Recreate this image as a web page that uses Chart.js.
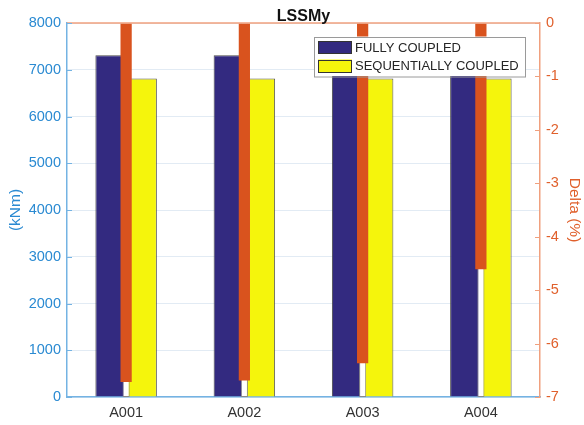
<!DOCTYPE html>
<html>
<head>
<meta charset="utf-8">
<script src="https://cdn.jsdelivr.net/npm/chart.js@4/dist/chart.umd.min.js"></script>
<style>
  html, body { margin: 0; padding: 0; background: #ffffff; }
  #wrap { position: relative; width: 584px; height: 425px; }
</style>
</head>
<body>
<div id="wrap"><canvas id="c" width="584" height="425"></canvas></div>
<script>
// LSSMy comparison: moment (kNm) per case, with relative difference (%) on the right axis
const categories = ['A001', 'A002', 'A003', 'A004'];
const fullyCoupled = [7310, 7310, 7310, 7310];
const sequentiallyCoupled = [6815, 6815, 6815, 6815];
const deltaPct = [-6.72, -6.69, -6.37, -4.61];
const deltaRange = [[-7, 0], [-7, 0], [-7, 0], [-7, 0]];
const seriesNames = ['FULLY COUPLED', 'SEQUENTIALLY COUPLED'];
const titleText = 'LSSMy';
const leftTitle = '(kNm)';
const rightTitle = 'Delta (%)';

const FONT = "'Liberation Sans', Arial, Helvetica, sans-serif";
const BLUE_TXT = '#2a8ad2';
const BLUE_LINE = '#74b3e3';
const ORANGE_TXT = '#e0602c';
const ORANGE_LINE = '#f0a07e';
const NAVY = '#332a80';
const YELLOW = '#f5f50c';
const RED_ORANGE = '#d9531e';

Chart.defaults.font.family = FONT;

// Title, inward tick marks, the orange top edge and the boxed legend
const decorations = {
  id: 'decorations',
  afterDraw(chart) {
    const ctx = chart.ctx;
    const a = chart.chartArea;
    const yL = chart.scales.y;
    const yR = chart.scales.y2;
    ctx.save();

    // top edge of the box in the right-axis colour
    ctx.strokeStyle = ORANGE_LINE;
    ctx.lineWidth = 1.5;
    ctx.beginPath();
    ctx.moveTo(a.left, a.top);
    ctx.lineTo(a.right, a.top);
    ctx.stroke();

    // inward ticks, left axis
    ctx.lineWidth = 1;
    ctx.strokeStyle = BLUE_LINE;
    yL.ticks.forEach(t => {
      const py = Math.round(yL.getPixelForValue(t.value)) + 0.5;
      ctx.beginPath();
      ctx.moveTo(a.left, py);
      ctx.lineTo(a.left + 5, py);
      ctx.stroke();
    });
    // inward ticks, right axis
    ctx.strokeStyle = ORANGE_LINE;
    yR.ticks.forEach(t => {
      const py = Math.round(yR.getPixelForValue(t.value)) + 0.5;
      ctx.beginPath();
      ctx.moveTo(a.right, py);
      ctx.lineTo(a.right - 5, py);
      ctx.stroke();
    });

    // title
    ctx.fillStyle = '#111111';
    ctx.font = 'bold 16px ' + FONT;
    ctx.textAlign = 'center';
    ctx.textBaseline = 'alphabetic';
    ctx.fillText(titleText, (a.left + a.right) / 2, 20.5);

    // legend
    const bx = a.right - 226, by = a.top + 13.5, bw = 211, bh = 39.5;
    ctx.fillStyle = '#ffffff';
    ctx.fillRect(bx, by, bw, bh);
    ctx.strokeStyle = '#9a9a9a';
    ctx.lineWidth = 1;
    ctx.strokeRect(Math.round(bx) + 0.5, Math.round(by) + 0.5, bw, bh);
    const ds = chart.data.datasets;
    ctx.font = '13px ' + FONT;
    ctx.textAlign = 'left';
    ctx.textBaseline = 'middle';
    [0, 1].forEach((i, row) => {
      const cy = by + 11 + row * 18.5;
      ctx.fillStyle = ds[i].backgroundColor;
      ctx.fillRect(bx + 4, cy - 6.5, 34, 13);
      ctx.strokeStyle = '#333333';
      ctx.strokeRect(Math.round(bx + 4) + 0.5, Math.round(cy - 6.5) + 0.5, 33, 12);
      ctx.fillStyle = '#262626';
      ctx.fillText(seriesNames[i], bx + 41, cy + 0.5);
    });
    ctx.restore();
  }
};

new Chart(document.getElementById('c'), {
  type: 'bar',
  data: {
    labels: categories,
    datasets: [
      {
        label: seriesNames[0],
        data: fullyCoupled,
        yAxisID: 'y',
        backgroundColor: NAVY,
        borderColor: '#4a4a4a',
        borderWidth: 1,
        categoryPercentage: 0.52,
        barPercentage: 1,
        order: 3
      },
      {
        label: seriesNames[1],
        data: sequentiallyCoupled,
        yAxisID: 'y',
        backgroundColor: YELLOW,
        borderColor: '#555555',
        borderWidth: 1,
        categoryPercentage: 0.52,
        barPercentage: 1,
        order: 4
      },
      {
        label: 'delta range',
        data: deltaRange,
        yAxisID: 'y2',
        grouped: false,
        backgroundColor: '#ffffff',
        borderColor: '#8a8a8a',
        borderWidth: 1,
        categoryPercentage: 1,
        barPercentage: 0.06,
        order: 2
      },
      {
        label: 'Delta',
        data: deltaPct,
        yAxisID: 'y2',
        grouped: false,
        backgroundColor: RED_ORANGE,
        borderWidth: 0,
        categoryPercentage: 1,
        barPercentage: 0.095,
        order: 1
      }
    ]
  },
  options: {
    responsive: false,
    animation: false,
    devicePixelRatio: 1,
    layout: { padding: { top: 23, left: 0, right: 0, bottom: 0 } },
    plugins: {
      legend: { display: false },
      title: { display: false },
      tooltip: { enabled: false }
    },
    scales: {
      x: {
        type: 'category',
        offset: true,
        grid: { display: false, drawTicks: false },
        border: { color: BLUE_LINE, width: 1.5 },
        ticks: { color: '#333333', font: { size: 14.5 }, padding: 7, maxRotation: 0 },
        afterFit(scale) { scale.height = 28; }
      },
      y: {
        position: 'left',
        min: 0,
        max: 8000,
        ticks: { stepSize: 1000, color: BLUE_TXT, font: { size: 14.5 }, padding: 6, callback: v => String(v) },
        grid: { color: '#e2ebf4', drawTicks: false },
        border: { color: BLUE_LINE, width: 1.5 },
        title: { display: true, text: leftTitle, color: BLUE_TXT, font: { size: 15.5 }, padding: { top: 6, bottom: 0 } },
        afterFit(scale) { scale.width = 67; }
      },
      y2: {
        position: 'right',
        min: -7,
        max: 0,
        ticks: { stepSize: 1, color: ORANGE_TXT, font: { size: 14.5 }, padding: 6, callback: v => String(v) },
        grid: { drawOnChartArea: false, drawTicks: false },
        border: { color: ORANGE_LINE, width: 1.5 },
        title: { display: true, text: rightTitle, color: ORANGE_TXT, font: { size: 15.5 }, padding: { top: 0, bottom: 0 } },
        afterFit(scale) { scale.width = 44; }
      }
    }
  },
  plugins: [decorations]
});
</script>
</body>
</html>
